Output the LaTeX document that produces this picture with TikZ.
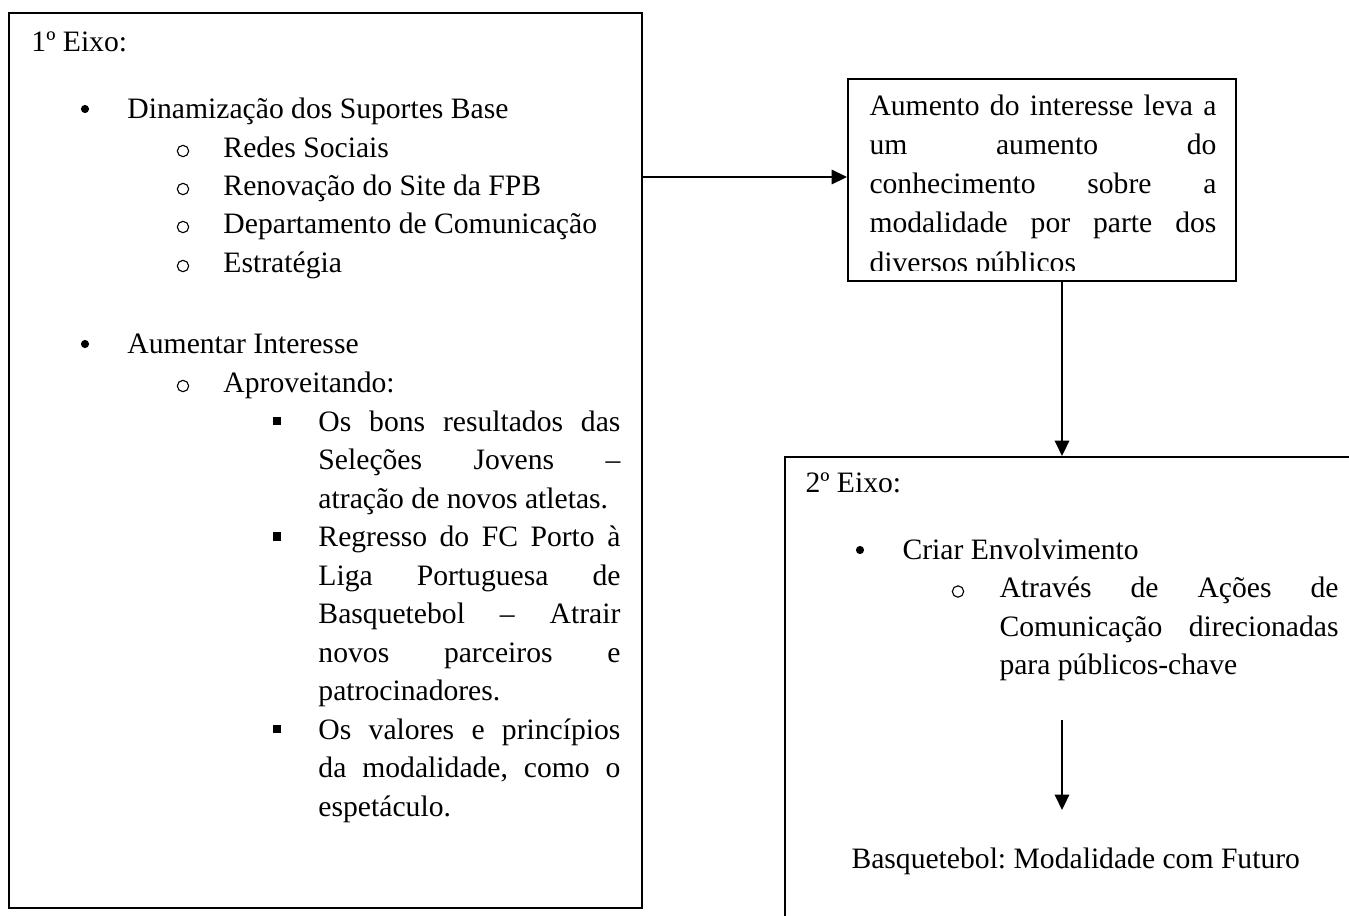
\documentclass[tikz,border=0pt]{standalone}
\usepackage{fontspec}
\setmainfont{Liberation Serif}
\usetikzlibrary{arrows.meta,fit}
\frenchspacing
\newcommand\jline[4]{\node[txt] (#1) at (#2) {\makebox[#3][s]{#4}};}
\begin{document}
\begin{tikzpicture}[x=0.405pt,y=-0.405pt,
  box/.style={draw, line width=0.8pt, inner sep=0pt},
  arr/.style={line width=0.8pt, -{Triangle[length=6.2pt,width=5.8pt]}},
  txt/.style={anchor=base west, inner sep=0pt, font=\fontsize{12}{14}\selectfont},
  dotb/.style={circle, fill, minimum size=3.3pt, inner sep=0pt},
  ringb/.style={circle, draw, line width=0.45pt, minimum size=4.6pt, inner sep=0pt},
  sq/.style={fill, minimum size=3.5pt, inner sep=0pt}]
\clip (0,0) rectangle (1349,915);
\fill[white] (0,0) rectangle (1349,915);

% boxes
\node[box, fit={(9,13)(642,908)}] (eixo1) {};
\node[box, fit={(848,79)(1236,281)}] (aum) {};
\node[box, fit={(785,457)(1380,960)}] (eixo2) {};

% box 1 text
\node[txt] (t1) at (31,51) {1º Eixo:};
\node[dotb] (b1) at (85,109) {};
\node[txt] (t2) at (127,118) {Dinamização dos Suportes Base};
\node[ringb] (c1) at (183,151) {};
\node[txt] (t3) at (223,157) {Redes Sociais};
\node[ringb] (c2) at (183,189) {};
\node[txt] (t4) at (223,195) {Renovação do Site da FPB};
\node[ringb] (c3) at (183,227) {};
\node[txt] (t5) at (223,233) {Departamento de Comunicação};
\node[ringb] (c4) at (183,266) {};
\node[txt] (t6) at (223,272) {Estratégia};
\node[dotb] (b2) at (85,344) {};
\node[txt] (t7) at (127,353) {Aumentar Interesse};
\node[ringb] (c5) at (183,386) {};
\node[txt] (t8) at (223,392) {Aproveitando:};
\node[sq] (s1) at (277,421) {};
\node[sq] (s2) at (277,536.5) {};
\node[sq] (s3) at (277,729) {};
\jline{u1}{318,431}{122.3pt}{Os bons resultados das}
\jline{u2}{318,469.5}{122.3pt}{Seleções Jovens –}
\node[txt] (u3) at (318,508) {atração de novos atletas.};
\jline{u4}{318,546.5}{122.3pt}{Regresso do FC Porto à}
\jline{u5}{318,585}{122.3pt}{Liga Portuguesa de}
\jline{u6}{318,623.5}{122.3pt}{Basquetebol – Atrair}
\jline{u7}{318,662}{122.3pt}{novos parceiros e}
\node[txt] (u8) at (318,700.5) {patrocinadores.};
\jline{u9}{318,739}{122.3pt}{Os valores e princípios}
\jline{u10}{318,777.5}{122.3pt}{da modalidade, como o}
\node[txt] (u11) at (318,816) {espetáculo.};

% box 2 text
\jline{r1}{869,115}{140.5pt}{Aumento do interesse leva a}
\jline{r2}{869,154}{140.5pt}{um aumento do}
\jline{r3}{869,193}{140.5pt}{conhecimento sobre a}
\jline{r4}{869,232}{140.5pt}{modalidade por parte dos}
\begin{scope}
\clip (850,240) rectangle (1234,270.5);
\node[txt] (r5) at (869,272) {diversos públicos};
\end{scope}

% box 3 text
\node[txt] (e1) at (805,492) {2º Eixo:};
\node[dotb] (b3) at (860,550) {};
\node[txt] (e2) at (902,559) {Criar Envolvimento};
\node[ringb] (c6) at (958,591.5) {};
\jline{e3}{999,597.5}{137.3pt}{Através de Ações de}
\jline{e4}{999,636}{137.3pt}{Comunicação direcionadas}
\node[txt] (e5) at (999,674.5) {para públicos-chave};
\node[txt] (fut) at (851,868) {Basquetebol: Modalidade com Futuro};

% connectors
\coordinate (a1) at (642,177);
\draw[arr] (a1) -- (a1 -| aum.west);
\coordinate (a2) at (1062,0);
\draw[arr] (a2 |- aum.south) -- (a2 |- eixo2.north);
\coordinate (a3s) at (1062,720);
\coordinate (a3e) at (1062,810);
\draw[arr] (a3s) -- (a3e);
\end{tikzpicture}
\end{document}
